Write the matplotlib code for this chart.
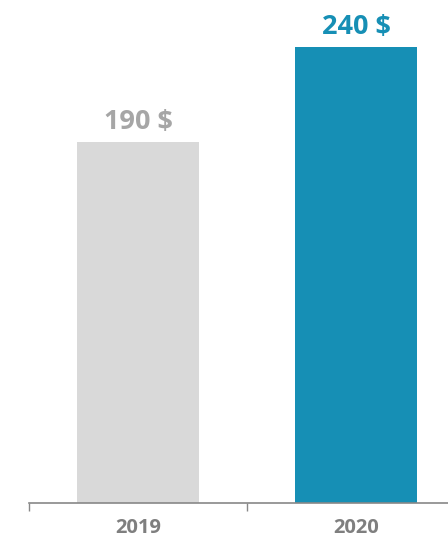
import matplotlib.pyplot as plt
import matplotlib.transforms as mtransforms

# data
years = ['2019', '2020']
values = [190, 240]
bar_colors = ['#d9d9d9', '#168fb5']
label_colors = ['#a6a6a6', '#168fb5']

fig = plt.figure(figsize=(4.48, 5.39), dpi=100)
# axes run past the right edge, as in the original
ax = fig.add_axes([29 / 448, 36 / 539, 436 / 448, 503 / 539])

x = range(len(years))
bars = ax.bar(x, values, width=0.56, color=bar_colors, zorder=2)

for b, v, c in zip(bars, values, label_colors):
    ax.text(b.get_x() + b.get_width() / 2, v + 6.8, f'{v} $',
            ha='center', va='baseline', fontsize=19.5, fontweight='bold',
            color=c, family='Open Sans')

ax.set_xlim(-0.5, 1.5)
ax.set_ylim(0, 264.7)

# tick marks sit between the categories
ax.set_xticks([-0.5, 0.5, 1.5])
ax.set_xticklabels([])
ax.tick_params(axis='x', which='major', length=6, width=1, color='#888888')

# year labels placed by hand so they sit low like the original
trans = mtransforms.blended_transform_factory(ax.transData, fig.transFigure)
for xi, yr in zip(x, years):
    ax.text(xi, 6 / 539, yr, transform=trans, ha='center', va='baseline',
            fontsize=14.5, fontweight='bold', color='#7f7f7f',
            family='Open Sans')

ax.set_yticks([])
for s in ['top', 'right', 'left']:
    ax.spines[s].set_visible(False)
ax.spines['bottom'].set_color('#888888')
ax.spines['bottom'].set_linewidth(1.2)

fig.savefig('out.png', dpi=100)
